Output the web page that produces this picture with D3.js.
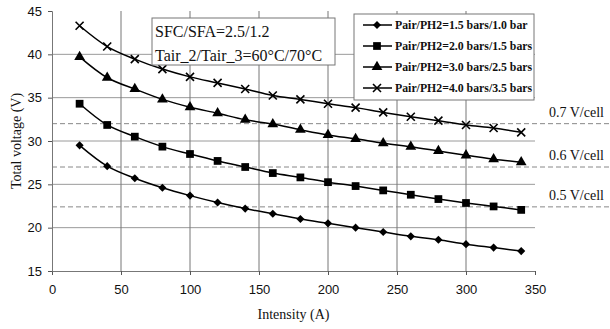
<!DOCTYPE html>
<html>
<head>
<meta charset="utf-8">
<script src="https://cdn.jsdelivr.net/npm/d3@7"></script>
<style>
  body { margin: 0; background: #fff; }
  svg { display: block; }
</style>
</head>
<body>
<div id="chart"></div>
<script>
// Data
const intensity = [20, 40, 60, 80, 100, 120, 140, 160, 180, 200, 220, 240, 260, 280, 300, 320, 340];
const seriesNames = [
  "Pair/PH2=1.5 bars/1.0 bar",
  "Pair/PH2=2.0 bars/1.5 bars",
  "Pair/PH2=3.0 bars/2.5 bars",
  "Pair/PH2=4.0 bars/3.5 bars"
];
const v15 = [29.5, 27.1, 25.7, 24.6, 23.7, 22.9, 22.2, 21.6, 21.0, 20.5, 20.0, 19.5, 19.0, 18.6, 18.1, 17.7, 17.3];
const v20 = [34.3, 31.85, 30.5, 29.35, 28.5, 27.7, 27.0, 26.3, 25.8, 25.25, 24.8, 24.3, 23.8, 23.3, 22.85, 22.45, 22.05];
const v30 = [39.7, 37.3, 36.0, 34.8, 33.9, 33.2, 32.45, 31.95, 31.3, 30.7, 30.25, 29.75, 29.35, 28.85, 28.35, 27.9, 27.55];
const v40 = [43.3, 40.9, 39.45, 38.3, 37.4, 36.7, 36.0, 35.25, 34.8, 34.3, 33.85, 33.3, 32.8, 32.35, 31.85, 31.5, 31.0];
const markers = ["diamond", "square", "triangle", "cross"];
const cellLevels = [32, 27, 22.4];
const cellLabels = ["0.7 V/cell", "0.6 V/cell", "0.5 V/cell"];
const xTicks = [0, 50, 100, 150, 200, 250, 300, 350];
const yTicks = [15, 20, 25, 30, 35, 40, 45];
const noteLines = ["SFC/SFA=2.5/1.2", "Tair_2/Tair_3=60°C/70°C"];

const W = 610, H = 329;
const margin = { top: 11, right: 75, bottom: 58, left: 52 };
const width = 535 - margin.left;
const height = 271 - margin.top;

const svg = d3.select("#chart").append("svg")
  .attr("width", W)
  .attr("height", H);

const g = svg.append("g")
  .attr("transform", `translate(${margin.left},${margin.top})`);

const x = d3.scaleLinear().domain([0, 350]).range([0, width]);
const y = d3.scaleLinear().domain([15, 45]).range([height, 0]);

const gridColor = "#9a9a9a";
const sansFont = "Arial, 'Liberation Sans', sans-serif";
const serifFont = "'Times New Roman', 'Liberation Serif', serif";

// grid lines
g.append("g").selectAll("line")
  .data(yTicks.filter(d => d > 15 && d < 45))
  .join("line")
    .attr("x1", 0).attr("x2", width)
    .attr("y1", d => y(d)).attr("y2", d => y(d))
    .attr("stroke", gridColor).attr("stroke-width", 1);

g.append("g").selectAll("line")
  .data(xTicks.filter(d => d > 0 && d < 350))
  .join("line")
    .attr("x1", d => x(d)).attr("x2", d => x(d))
    .attr("y1", y(15)).attr("y2", y(45))
    .attr("stroke", "#777").attr("stroke-width", 1);

// V/cell dashed lines, running past the plot to the page edge
g.append("g").selectAll("line")
  .data(cellLevels)
  .join("line")
    .attr("x1", 0).attr("x2", W - margin.left)
    .attr("y1", d => y(d)).attr("y2", d => y(d))
    .attr("stroke", "#888").attr("stroke-width", 1)
    .attr("stroke-dasharray", "5,3");

g.append("g").selectAll("text")
  .data(cellLevels)
  .join("text")
    .attr("x", 549 - margin.left)
    .attr("y", d => y(d) - 7)
    .attr("font-family", serifFont)
    .attr("font-size", 14)
    .attr("fill", "#111")
    .text((d, i) => cellLabels[i]);

// axes
const xAxis = d3.axisBottom(x).tickValues(xTicks).tickSize(4).tickPadding(10);
const yAxis = d3.axisLeft(y).tickValues(yTicks).tickSize(4).tickPadding(6);

const xg = g.append("g").attr("transform", `translate(0,${height})`).call(xAxis);
const yg = g.append("g").call(yAxis);
[xg, yg].forEach(a => {
  a.select(".domain").attr("stroke", "#777");
  a.selectAll(".tick line").attr("stroke", "#555");
  a.selectAll(".tick text")
    .attr("font-family", sansFont)
    .attr("font-size", 13)
    .attr("fill", "#111");
});

// axis titles
g.append("text")
  .attr("transform", "rotate(-90)")
  .attr("x", -height / 2)
  .attr("y", 21 - margin.left)
  .attr("text-anchor", "middle")
  .attr("font-family", serifFont)
  .attr("font-size", 14)
  .attr("fill", "#111")
  .text("Total voltage (V)");

g.append("text")
  .attr("x", width / 2)
  .attr("y", 319 - margin.top)
  .attr("text-anchor", "middle")
  .attr("font-family", serifFont)
  .attr("font-size", 14)
  .attr("fill", "#111")
  .text("Intensity (A)");

// series
const allSeries = [v15, v20, v30, v40].map((vals, i) => ({
  name: seriesNames[i],
  marker: markers[i],
  values: intensity.map((xi, j) => ({ x: xi, v: vals[j] }))
}));

const line = d3.line()
  .x(d => x(d.x))
  .y(d => y(d.v))
  .curve(d3.curveCatmullRom.alpha(0.5));

function drawMarker(sel, type) {
  if (type === "diamond") {
    sel.append("path").attr("d", d3.symbol(d3.symbolDiamond2, 42)()).attr("fill", "#000");
  } else if (type === "square") {
    sel.append("path").attr("d", d3.symbol(d3.symbolSquare, 60)()).attr("fill", "#000");
  } else if (type === "triangle") {
    sel.append("path").attr("d", d3.symbol(d3.symbolTriangle, 50)()).attr("fill", "#000");
  } else {
    sel.append("path").attr("d", "M-4,-4L4,4M-4,4L4,-4")
      .attr("stroke", "#000").attr("stroke-width", 1.6).attr("fill", "none");
  }
}

const sg = g.append("g").selectAll("g")
  .data(allSeries)
  .join("g");

sg.append("path")
  .attr("d", d => line(d.values))
  .attr("fill", "none")
  .attr("stroke", "#000")
  .attr("stroke-width", 1.5);

sg.each(function(s) {
  d3.select(this).selectAll("g.pt")
    .data(s.values)
    .join("g")
      .attr("class", "pt")
      .attr("transform", d => `translate(${x(d.x)},${y(d.v)})`)
      .each(function() { drawMarker(d3.select(this), s.marker); });
});

// annotation box
const note = svg.append("g").attr("transform", "translate(152,18)");
note.append("rect")
  .attr("width", 183).attr("height", 47)
  .attr("fill", "#fff").attr("stroke", "#777").attr("stroke-width", 1);
note.selectAll("text")
  .data(noteLines)
  .join("text")
    .attr("x", 3)
    .attr("y", (d, i) => 19 + i * 24)
    .attr("font-family", serifFont)
    .attr("font-size", 16)
    .attr("fill", "#111")
    .text(d => d);

// legend
const legend = svg.append("g").attr("transform", "translate(354,14)");
legend.append("rect")
  .attr("width", 180).attr("height", 86)
  .attr("fill", "#fff").attr("stroke", "#777").attr("stroke-width", 1);

const li = legend.selectAll("g.item")
  .data(allSeries)
  .join("g")
    .attr("class", "item")
    .attr("transform", (d, i) => `translate(0,${11 + i * 21})`);

li.append("line")
  .attr("x1", 9).attr("x2", 38)
  .attr("stroke", "#000").attr("stroke-width", 1.5);
li.append("g")
  .attr("transform", "translate(23,0)")
  .each(function(d) { drawMarker(d3.select(this), d.marker); });
li.append("text")
  .attr("x", 41)
  .attr("y", 4)
  .attr("font-family", serifFont)
  .attr("font-size", 11.8)
  .attr("font-weight", "bold")
  .attr("fill", "#111")
  .text(d => d.name);
</script>
</body>
</html>
